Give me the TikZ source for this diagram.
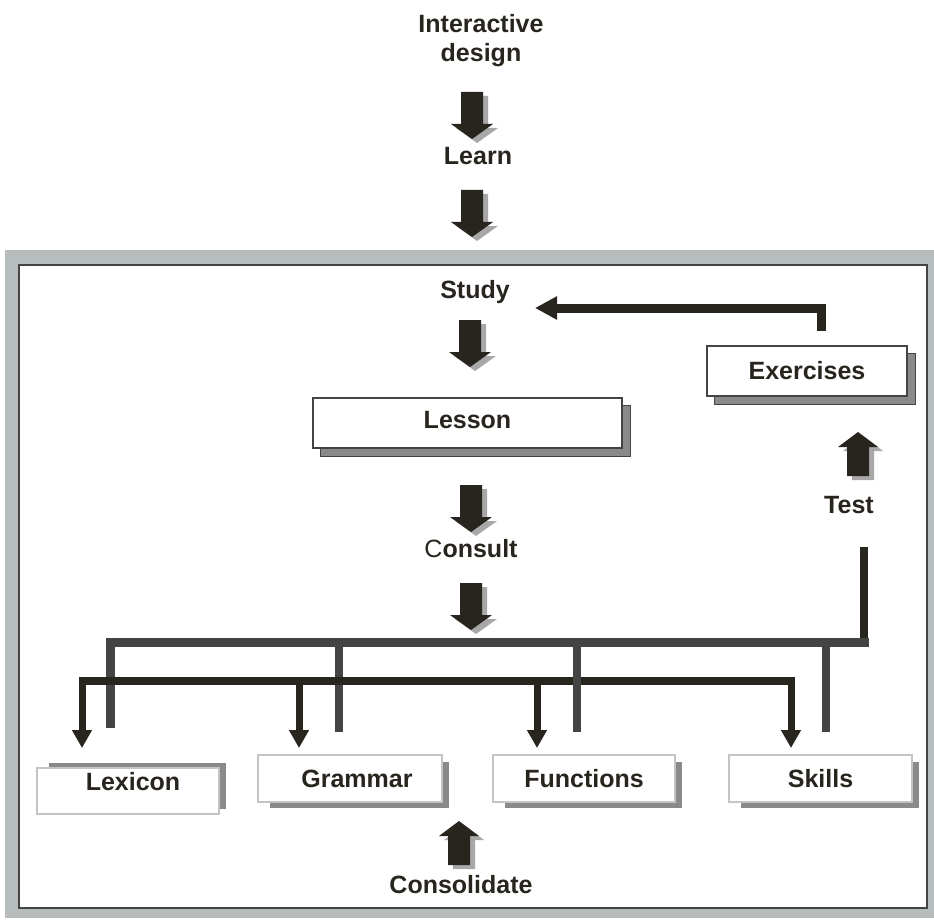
\documentclass[tikz,border=0pt]{standalone}
\usepackage{fontspec}
\setmainfont{Liberation Sans}
\usetikzlibrary{arrows.meta,backgrounds}
\definecolor{ink}{HTML}{28241E}
\definecolor{dgray}{HTML}{444444}
\definecolor{shgray}{HTML}{8A8A8A}
\definecolor{arrsh}{HTML}{A8A8A8}
\definecolor{band}{HTML}{B7BCBC}
\definecolor{lborder}{HTML}{C4C4C4}
\tikzset{
  lbl/.style={font=\fontsize{25}{29}\selectfont\bfseries, inner sep=0pt, text=ink},
  darkbox/.style={lbl, draw=dgray, line width=1.2pt, fill=white, text height=17.9pt, text depth=0pt},
  lightbox/.style={lbl, draw=lborder, line width=1.2pt, fill=white, text height=17.9pt, text depth=0pt},
  darkshadow/.style={fill=shgray, draw=dgray, line width=1pt},
  lightshadow/.style={fill=shgray},
  grayline/.style={dgray, line width=9pt},
  grayleg/.style={dgray, line width=8pt},
  inkline/.style={ink, line width=8pt},
  inkdrop/.style={ink, line width=7pt, -{Triangle[width=19pt,length=18pt]}},
  downarr/.pic={
    \fill[arrsh] (-6,4) -- (16,4) -- (16,36) -- (26,36) -- (5,51) -- (-16,36) -- (-6,36) -- cycle;
    \fill[ink] (-11,0) -- (11,0) -- (11,32) -- (21,32) -- (0,47) -- (-21,32) -- (-11,32) -- cycle;
  },
  uparr/.pic={
    \fill[arrsh] (5,4) -- (25,19) -- (16,19) -- (16,48) -- (-6,48) -- (-6,19) -- (-15,19) -- cycle;
    \fill[ink] (0,0) -- (20,15) -- (11,15) -- (11,44) -- (-11,44) -- (-11,15) -- (-20,15) -- cycle;
  },
}
\begin{document}
\begin{tikzpicture}[x=1pt,y=-1pt]
\useasboundingbox (0,0) rectangle (934,920);

% labels
\node[lbl, align=center, anchor=north] (design) at (481,14) {Interactive\\design};
\node[lbl, anchor=base] (learn) at (478,165) {Learn};
\node[lbl, anchor=base] (study) at (475,298) {Study};
\node[lbl, anchor=base] (consult) at (471,557) {\textmd{C}onsult};
\node[lbl, anchor=base] (test) at (849,513) {Test};
\node[lbl, anchor=base] (consolidate) at (461,893) {Consolidate};

% boxes
\node[darkbox, minimum width=309pt, minimum height=50pt, text depth=7pt] (lesson) at (467.5,423) {Lesson};
\node[darkbox, minimum width=200pt, minimum height=50pt] (exercises) at (807,371) {Exercises};
\node[lightbox, minimum width=182pt, minimum height=46pt, text depth=19pt] (lexicon) at (128,791) {\hspace*{10pt}Lexicon};
\node[lightbox, minimum width=184pt, minimum height=47pt] (grammar) at (350,778.5) {\hspace*{14pt}Grammar};
\node[lightbox, minimum width=182pt, minimum height=47pt] (functions) at (584,778.5) {Functions};
\node[lightbox, minimum width=183pt, minimum height=47pt] (skills) at (820.5,778.5) {Skills};

% block arrows
\pic at (472,92) {downarr};
\pic at (472,190) {downarr};
\pic at (470,320) {downarr};
\pic at (471,485) {downarr};
\pic at (471,583) {downarr};
\pic at (858,432) {uparr};
\pic at (459,821) {uparr};

% Exercises -> Study
\coordinate (exout) at (821,331);
\coordinate (excorner) at (821,308);
\coordinate (studyin) at (535,308);
\draw[ink, line width=9pt, line join=miter, -{Triangle[width=22pt,length=22pt]}] (exout) -- (excorner) -- (studyin);

% Test network (gray)
\coordinate (testtop) at (864,547);
\coordinate (testbot) at (864,641);
\coordinate (gr) at (869,642);
\coordinate (gl) at (110,642);
\coordinate (glb) at (110,728);
\draw[inkline] (testtop) -- (testbot);
\draw[grayline, line join=miter] (gr) -- (gl) -- (glb);
\draw[grayleg] (339,646) -- (339,732);
\draw[grayleg] (826,646) -- (826,732);

% Consult network (black)
\coordinate (bl) at (79,681);
\coordinate (br) at (795,681);
\draw[inkline] (bl) -- (br);
\coordinate (lexin) at (82,748);
\coordinate (gramin) at (299,748);
\coordinate (funcin) at (537,748);
\coordinate (skillin) at (791,748);
\draw[inkdrop] (82,678) -- (lexin);
\draw[inkdrop] (299,678) -- (gramin);
\draw[inkdrop] (537,678) -- (funcin);
\draw[inkdrop] (791,678) -- (skillin);
\draw[grayleg] (577,646) -- (577,732);

\begin{scope}[on background layer]
  \fill[band] (5,250) rectangle (934,918);
  \draw[dgray, line width=1.5pt, fill=white] (19,265) rectangle (927,908);
  \filldraw[darkshadow] ([shift={(8,8)}]lesson.north west) rectangle ([shift={(8,8)}]lesson.south east);
  \filldraw[darkshadow] ([shift={(8,8)}]exercises.north west) rectangle ([shift={(8,8)}]exercises.south east);
  \fill[lightshadow] ([shift={(13,-4)}]lexicon.north west) rectangle ([shift={(6,-6)}]lexicon.south east);
  \fill[lightshadow] ([shift={(13,8)}]grammar.north west) rectangle ([shift={(6,5)}]grammar.south east);
  \fill[lightshadow] ([shift={(13,8)}]functions.north west) rectangle ([shift={(6,5)}]functions.south east);
  \fill[lightshadow] ([shift={(13,8)}]skills.north west) rectangle ([shift={(6,5)}]skills.south east);
\end{scope}
\end{tikzpicture}
\end{document}
